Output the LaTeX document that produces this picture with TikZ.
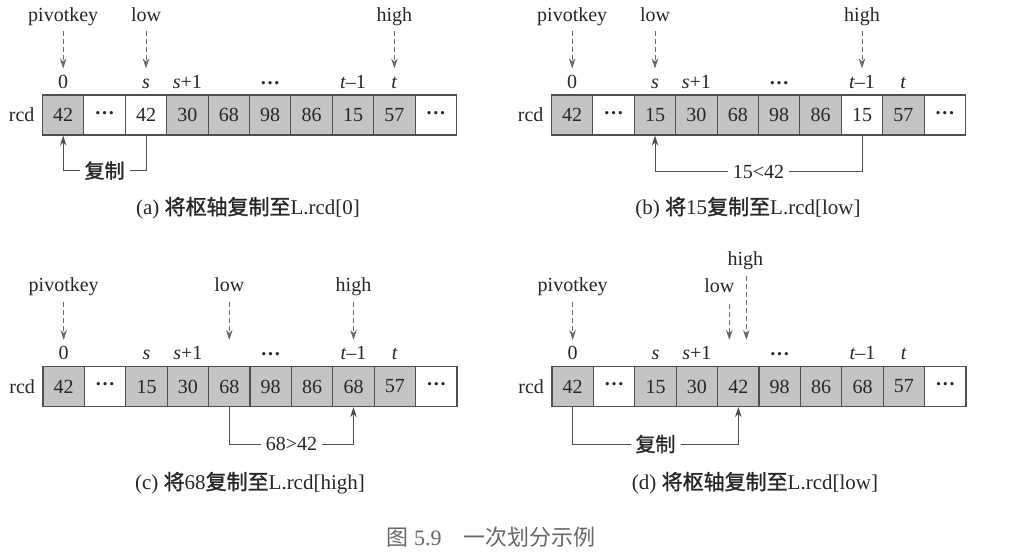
\documentclass[tikz,border=0pt]{standalone}
\usepackage{fontspec}
\setmainfont{Liberation Serif}
\newfontfamily\cjk{Noto Sans CJK SC}
\newfontfamily\cjkm[FakeBold=1.2]{Noto Sans CJK SC}
\usetikzlibrary{arrows.meta,positioning}
\definecolor{linegray}{HTML}{4F4F4F}
\definecolor{cellgray}{HTML}{C4C4C4}
\definecolor{inkgray}{HTML}{262626}
\newcommand{\dd}{\raisebox{0.22em}{\bfseries …}}

\begin{document}
\begin{tikzpicture}[x=1pt, y=1pt,
    every node/.style={font=\fontsize{20}{24}\selectfont, text=inkgray},
    cell/.style={draw=linegray, line width=1.1pt, minimum width=41.4pt, minimum height=40pt, inner sep=0pt},
    idx/.style={anchor=base, inner sep=0pt},
    ptrlbl/.style={anchor=base, inner sep=0pt},
    ptr/.style={draw=linegray!85, line width=0.9pt, dash pattern=on 5pt off 3pt, -{Stealth[length=10pt, width=6.5pt]}},
    link/.style={draw=linegray, line width=1pt, -{Stealth[length=10pt, width=6.5pt]}},
    note/.style={fill=white, inner sep=5pt},
    caption/.style={font=\fontsize{21}{24}\selectfont}
]
\useasboundingbox (0,0) rectangle (1016,-556);

% Record arrays
\foreach \v/\f [count=\i from 0] in {42/cellgray, \dd/white, 42/white, 30/cellgray, 68/cellgray, 98/cellgray, 86/cellgray, 15/cellgray, 57/cellgray, \dd/white}
  \node[cell, fill=\f] (a\i) at ({63.2+41.4*\i},-115) {\v};
\foreach \v/\f [count=\i from 0] in {42/cellgray, \dd/white, 15/cellgray, 30/cellgray, 68/cellgray, 98/cellgray, 86/cellgray, 15/white, 57/cellgray, \dd/white}
  \node[cell, fill=\f] (b\i) at ({572.2+41.4*\i},-115) {\v};
\foreach \v/\f [count=\i from 0] in {42/cellgray, \dd/white, 15/cellgray, 30/cellgray, 68/cellgray, 98/cellgray, 86/cellgray, 68/cellgray, 57/cellgray, \dd/white}
  \node[cell, fill=\f] (c\i) at ({63.7+41.4*\i},-386.5) {\v};
\foreach \v/\f [count=\i from 0] in {42/cellgray, \dd/white, 15/cellgray, 30/cellgray, 42/cellgray, 98/cellgray, 86/cellgray, 68/cellgray, 57/cellgray, \dd/white}
  \node[cell, fill=\f] (d\i) at ({572.7+41.4*\i},-386.5) {\v};

% Index labels and array names
\foreach \p in {a,b,c,d} {
  \foreach \j/\t in {0/0, 2/\textit{s}, 3/\textit{s}+1, 5/\dd, 7/\textit{t}--1, 8/\textit{t}}
    \node[idx] (\p i\j) at ([yshift=6pt]\p\j.north) {\t};
  \node[left=4pt of \p0] (\p rcd) {rcd};
}

% Pointers
\node[ptrlbl] (apk) at ([yshift=73pt]a0.north) {pivotkey};
\node[ptrlbl] (alow) at ([yshift=73pt]a2.north) {low};
\node[ptrlbl] (ahigh) at ([yshift=73pt]a8.north) {high};
\node[ptrlbl] (bpk) at ([yshift=73pt]b0.north) {pivotkey};
\node[ptrlbl] (blow) at ([yshift=73pt]b2.north) {low};
\node[ptrlbl] (bhigh) at ([yshift=73pt]b7.north) {high};
\node[ptrlbl] (cpk) at ([yshift=74pt]c0.north) {pivotkey};
\node[ptrlbl] (clow) at ([yshift=74pt]c4.north) {low};
\node[ptrlbl] (chigh) at ([yshift=74pt]c7.north) {high};
\node[ptrlbl] (dpk) at ([yshift=74pt]d0.north) {pivotkey};
\node[ptrlbl] (dlow) at ([xshift=-19pt, yshift=73pt]d4.north) {low};
\node[ptrlbl] (dhigh) at ([xshift=7pt, yshift=100pt]d4.north) {high};

\foreach \n/\c in {apk/a0, alow/a2, ahigh/a8, bpk/b0, blow/b2, bhigh/b7, cpk/c0, clow/c4, chigh/c7, dpk/d0}
  \draw[ptr] ([yshift=-10pt]\n.base) -- ([yshift=26pt]\c.north);
\draw[ptr] ([xshift=10pt, yshift=-11pt]dlow.base) -- ([xshift=-9pt, yshift=26pt]d4.north);
\draw[ptr] ([xshift=1pt, yshift=-10pt]dhigh.base) -- ([xshift=8pt, yshift=26pt]d4.north);

% Moves
\draw[link] (a2.south) -- ++(0,-35) -| node[note, pos=0.25] {\cjkm 复制} (a0.south);
\draw[link] (b7.south) -- ++(0,-36) -| node[note, pos=0.25] {15<42} (b2.south);
\draw[link] (c4.south) -- ++(0,-37) -| node[note, pos=0.25] {68>42} (c7.south);
\draw[link] (d0.south) -- ++(0,-37) -| node[note, pos=0.25] {\cjkm 复制} (d4.south);

% Captions
\node[caption] (capa) at (248,-208) {(a) {\cjkm 将枢轴复制至}L.rcd[0]};
\node[caption] (capb) at (748,-208) {(b) {\cjkm 将}15{\cjkm 复制至}L.rcd[low]};
\node[caption] (capc) at (250,-483) {(c) {\cjkm 将}68{\cjkm 复制至}L.rcd[high]};
\node[caption] (capd) at (755,-483) {(d) {\cjkm 将枢轴复制至}L.rcd[low]};
\node[font=\fontsize{22}{24}\selectfont, text=black!60] (figcap) at (491,-537) {{\cjk 图} 5.9\quad{\cjk 一次划分示例}};

\end{tikzpicture}
\end{document}
